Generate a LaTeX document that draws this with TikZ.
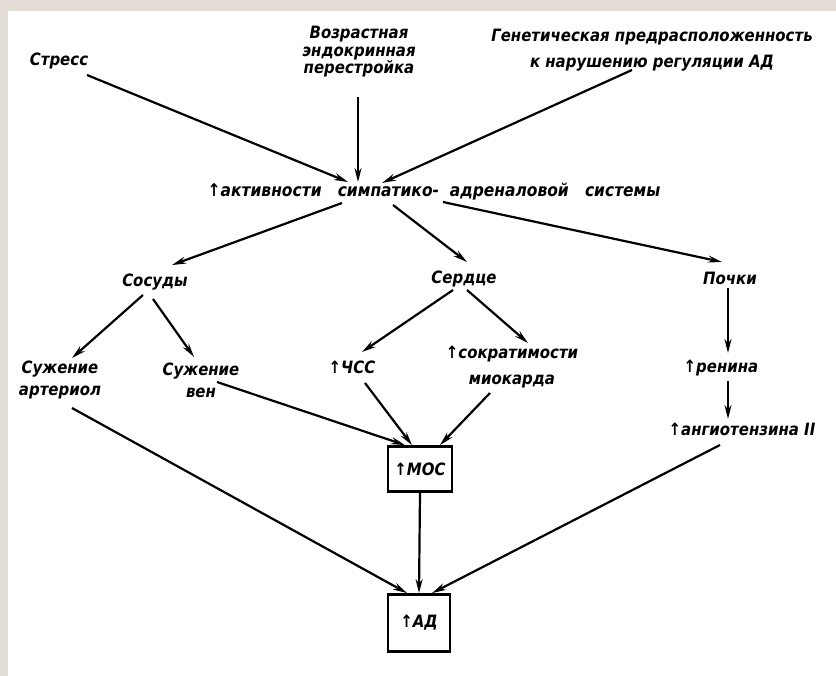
\documentclass[tikz,border=0pt]{standalone}
\usepackage{fontspec}
\setmainfont{DejaVu Sans}[FakeStretch=0.88]
\usetikzlibrary{arrows.meta}
\definecolor{bgbeige}{HTML}{E3DDD6}
\begin{document}
\begin{tikzpicture}[x=1pt,y=-1pt,
  lbl/.style={inner sep=0pt, font=\fontsize{17}{19}\selectfont\bfseries\itshape, align=center},
  arr/.style={-{Stealth[length=14pt,width=7pt]}, line width=2.2pt},
  boxn/.style={draw, line width=2.8pt, inner sep=0pt, font=\fontsize{17}{19}\selectfont\bfseries\itshape}]
\useasboundingbox (0,0) rectangle (836,676);
\fill[bgbeige] (0,0) rectangle (836,676);
\fill[white] (8,11) rectangle (836,676);

\node[lbl] (stress) at (59,61) {Стресс};
\node[lbl, font=\fontsize{17}{17.5}\selectfont\bfseries\itshape] (vozr) at (359,52) {Возрастная\\эндокринная\\перестройка};
\node[lbl, font=\fontsize{17}{26}\selectfont\bfseries\itshape] (gen) at (652,50) {Генетическая предрасположенность\\к нарушению регуляции АД};
\node[lbl, font=\fontsize{17.6}{19}\selectfont\bfseries\itshape] (sys) at (434,192) {↑активности\ \ \ симпатико-\ \ адреналовой\ \ \ системы};
\node[lbl] (sosudy) at (155,282) {Сосуды};
\node[lbl] (serdce) at (464,279) {Сердце};
\node[lbl] (pochki) at (730,278) {Почки};
\node[lbl, font=\fontsize{17}{22}\selectfont\bfseries\itshape] (suzhart) at (60,380) {Сужение\\артериол};
\node[lbl, font=\fontsize{17}{22}\selectfont\bfseries\itshape] (suzhven) at (201,380) {Сужение\\вен};
\node[lbl] (chss) at (352,367) {↑ЧСС};
\node[lbl, font=\fontsize{17}{26}\selectfont\bfseries\itshape] (sokr) at (512,367) {↑сократимости\\миокарда};
\node[lbl] (renina) at (721,368) {↑ренина};
\node[lbl] (angio) at (742,429) {↑ангиотензина II};
\node[boxn, minimum width=64pt, minimum height=45pt] (mos) at (420,469) {↑МОС};
\node[boxn, minimum width=62pt, minimum height=57pt] (ad) at (419,623) {↑АД};

\draw[arr] ([shift={(28,14)}]stress.center) -- ([shift={(-86,-10)}]sys.center);
\draw[arr] ([shift={(-1,45)}]vozr.center) -- ([shift={(-76,-10)}]sys.center);
\draw[arr] ([shift={(-20,20)}]gen.center) -- ([shift={(-52,-9)}]sys.center);
\draw[arr] ([shift={(-92,11)}]sys.center) -- ([shift={(17,-17)}]sosudy.center);
\draw[arr] ([shift={(-41,13)}]sys.center) -- ([shift={(3,-17)}]serdce.center);
\draw[arr] ([shift={(9,10)}]sys.center) -- ([shift={(-8,-16)}]pochki.center);
\draw[arr] ([shift={(-12,13)}]sosudy.center) -- ([shift={(12,-22)}]suzhart.center);
\draw[arr] ([shift={(-2,17)}]sosudy.center) -- ([shift={(-7,-23)}]suzhven.center);
\draw[arr] ([shift={(-11,11)}]serdce.center) -- ([shift={(10,-15)}]chss.center);
\draw[arr] ([shift={(3,11)}]serdce.center) -- ([shift={(16,-24)}]sokr.center);
\draw[arr] ([shift={(-2,10)}]pochki.center) -- ([shift={(7,-15)}]renina.center);
\draw[arr] ([shift={(7,13)}]renina.center) -- ([shift={(-14,-10)}]angio.center);
\draw[arr] ([shift={(16,2)}]suzhven.center) -- ([xshift=-15pt]mos.north);
\draw[arr] ([shift={(13,16)}]chss.center) -- ([xshift=-8pt]mos.north);
\draw[arr] ([shift={(-22,26)}]sokr.center) -- ([xshift=20pt]mos.north);
\draw[arr] ([shift={(12,28)}]suzhart.center) -- ([xshift=-12pt]ad.north);
\draw[arr] (mos.south) -- (ad.north);
\draw[arr] ([shift={(-22,16)}]angio.center) -- ([xshift=13pt]ad.north);
\end{tikzpicture}
\end{document}
